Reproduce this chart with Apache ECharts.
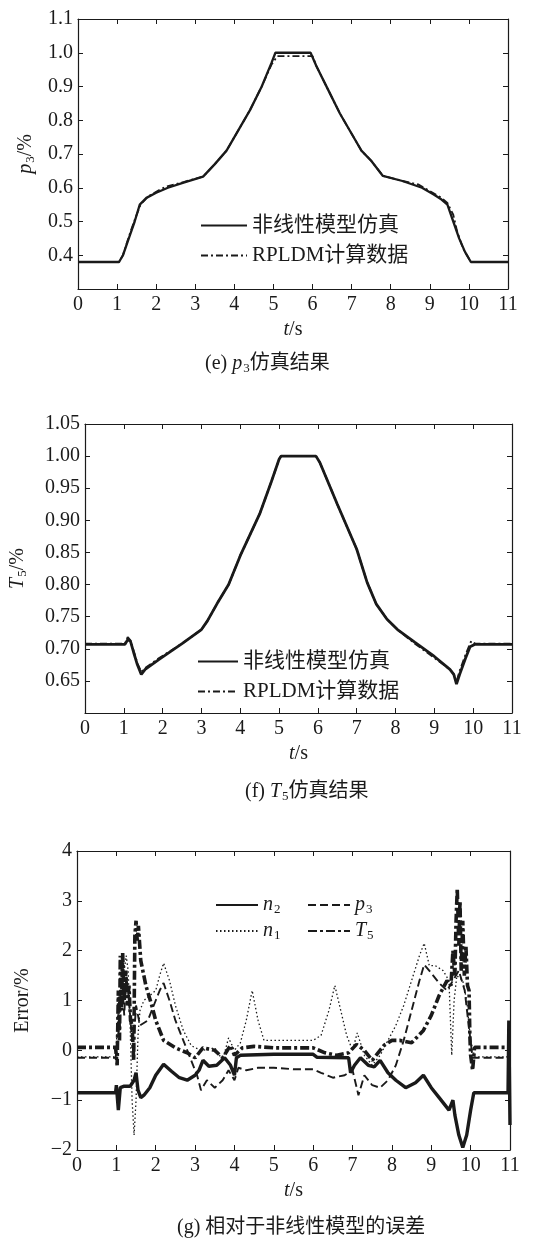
<!DOCTYPE html>
<html><head><meta charset="utf-8">
<script src="https://cdn.jsdelivr.net/npm/echarts@6/dist/echarts.min.js"></script>
<style>html,body{margin:0;padding:0;background:#fff}#c{width:551px;height:1240px}</style>
</head><body><div id="c"></div>
<script>
// ---- data: (e) p3 simulation ----
var p3_nonlinear = [[0,0.38],[1.05,0.38],[1.15,0.40],[1.3,0.45],[1.45,0.50],[1.58,0.55],[1.75,0.57],[2.0,0.585],[2.3,0.60],[2.7,0.615],[3.2,0.633],[3.5,0.67],[3.8,0.71],[4.1,0.77],[4.4,0.83],[4.7,0.90],[4.95,0.97],[5.05,1.0],[5.95,1.0],[6.1,0.96],[6.4,0.89],[6.7,0.82],[7.0,0.76],[7.25,0.71],[7.5,0.68],[7.8,0.635],[8.3,0.62],[8.8,0.60],[9.1,0.58],[9.3,0.565],[9.45,0.55],[9.6,0.50],[9.75,0.45],[9.9,0.41],[10.05,0.38],[11,0.38]];
var p3_rpldm = [[0,0.38],[1.05,0.38],[1.15,0.40],[1.3,0.455],[1.45,0.505],[1.6,0.55],[1.8,0.575],[2.1,0.595],[2.3,0.605],[2.7,0.617],[3.2,0.633],[3.5,0.67],[3.8,0.71],[4.1,0.77],[4.4,0.83],[4.7,0.90],[4.95,0.965],[5.1,0.99],[6.0,0.99],[6.1,0.96],[6.4,0.89],[6.7,0.82],[7.0,0.76],[7.25,0.71],[7.5,0.68],[7.8,0.635],[8.3,0.62],[8.7,0.61],[9.0,0.59],[9.3,0.57],[9.45,0.555],[9.6,0.52],[9.7,0.47],[9.85,0.42],[10.05,0.38],[11,0.38]];
// ---- data: (f) T5 simulation ----
var t5_nonlinear = [[0,0.707],[1.03,0.707],[1.1,0.714],[1.17,0.712],[1.25,0.695],[1.35,0.675],[1.45,0.66],[1.55,0.668],[1.9,0.683],[2.5,0.708],[3.0,0.73],[3.15,0.743],[3.4,0.77],[3.7,0.80],[4.0,0.845],[4.5,0.91],[4.8,0.96],[5.0,0.995],[5.05,1.0],[5.95,1.0],[6.05,0.99],[6.5,0.925],[7.0,0.855],[7.27,0.803],[7.5,0.77],[7.78,0.746],[8.05,0.73],[8.5,0.71],[9.0,0.688],[9.4,0.668],[9.5,0.66],[9.57,0.645],[9.65,0.66],[9.8,0.685],[9.92,0.703],[10.05,0.707],[11,0.707]];
var t5_rpldm = [[0,0.708],[1.03,0.708],[1.1,0.718],[1.17,0.713],[1.25,0.697],[1.35,0.677],[1.45,0.664],[1.55,0.67],[1.9,0.685],[2.5,0.708],[3.0,0.73],[3.15,0.743],[3.4,0.77],[3.7,0.80],[4.0,0.845],[4.5,0.91],[4.8,0.96],[5.0,0.995],[5.05,1.0],[5.95,1.0],[6.05,0.99],[6.5,0.925],[7.0,0.855],[7.27,0.803],[7.5,0.77],[7.78,0.746],[8.05,0.73],[8.5,0.708],[9.0,0.686],[9.4,0.668],[9.5,0.66],[9.57,0.648],[9.65,0.665],[9.8,0.69],[9.95,0.712],[10.05,0.708],[11,0.708]];
// ---- data: (g) relative error ----
var err_n2 = [[0,-0.85],[0.98,-0.85],[1.0,-0.7],[1.05,-1.2],[1.1,-0.75],[1.2,-0.72],[1.35,-0.72],[1.45,-0.6],[1.5,-0.45],[1.55,-0.8],[1.62,-0.95],[1.7,-0.9],[1.85,-0.75],[2.0,-0.5],[2.2,-0.28],[2.4,-0.42],[2.6,-0.55],[2.8,-0.6],[3.0,-0.5],[3.1,-0.4],[3.2,-0.2],[3.35,-0.32],[3.55,-0.3],[3.75,-0.15],[3.9,-0.3],[4.0,-0.5],[4.05,-0.15],[4.15,-0.1],[5,-0.08],[6,-0.08],[6.1,-0.14],[6.9,-0.15],[6.95,-0.45],[7.05,-0.3],[7.2,-0.15],[7.4,-0.3],[7.55,-0.33],[7.7,-0.2],[7.9,-0.45],[8.1,-0.6],[8.35,-0.75],[8.6,-0.65],[8.8,-0.5],[9.0,-0.75],[9.2,-0.95],[9.45,-1.2],[9.55,-1.0],[9.6,-1.3],[9.7,-1.7],[9.8,-1.95],[9.9,-1.7],[10.0,-1.2],[10.08,-0.85],[10.95,-0.85],[10.97,0.6],[11,-1.5]];
var err_p3 = [[0,-0.15],[0.98,-0.15],[1.05,0.3],[1.1,1.0],[1.15,1.4],[1.2,0.7],[1.25,1.5],[1.3,1.2],[1.35,0.7],[1.4,0.2],[1.45,0.3],[1.5,0.9],[1.6,0.5],[1.8,0.6],[2.0,1.0],[2.1,1.2],[2.2,1.35],[2.35,1.0],[2.5,0.6],[2.7,0.2],[2.9,-0.2],[3.05,-0.5],[3.15,-0.8],[3.3,-0.6],[3.5,-0.75],[3.7,-0.6],[3.85,-0.4],[4.0,-0.6],[4.1,-0.35],[4.3,-0.4],[4.6,-0.35],[5.0,-0.35],[5.5,-0.38],[6.0,-0.38],[6.2,-0.45],[6.5,-0.55],[6.8,-0.5],[7.0,-0.4],[7.15,-0.9],[7.3,-0.5],[7.5,-0.7],[7.7,-0.75],[7.9,-0.6],[8.1,-0.3],[8.3,0.2],[8.5,0.8],[8.7,1.4],[8.82,1.72],[9.0,1.55],[9.2,1.35],[9.4,1.2],[9.55,1.4],[9.7,1.6],[9.85,1.2],[9.95,0.5],[10.05,-0.15],[11,-0.15]];
var err_n1 = [[0,-0.13],[0.98,-0.13],[1.05,0.8],[1.1,1.3],[1.15,1.8],[1.2,1.6],[1.25,1.9],[1.3,1.6],[1.35,0.5],[1.4,-1.0],[1.45,-1.7],[1.5,-1.0],[1.55,0.3],[1.6,0.8],[1.7,1.0],[1.85,1.1],[2.0,1.2],[2.1,1.5],[2.2,1.75],[2.35,1.4],[2.5,0.9],[2.7,0.4],[2.9,0.1],[3.0,0.05],[3.2,0.0],[3.5,0.05],[3.7,-0.2],[3.85,0.25],[4.0,0.0],[4.15,0.15],[4.3,0.6],[4.45,1.2],[4.6,0.6],[4.75,0.2],[5,0.2],[5.5,0.2],[6.0,0.2],[6.2,0.3],[6.4,0.8],[6.55,1.3],[6.7,0.8],[6.85,0.3],[7.0,0.0],[7.12,0.35],[7.3,-0.1],[7.5,-0.3],[7.7,-0.1],[7.9,0.2],[8.1,0.5],[8.3,0.9],[8.5,1.4],[8.7,1.9],[8.82,2.15],[8.95,1.7],[9.1,1.7],[9.3,1.6],[9.45,1.4],[9.52,-0.1],[9.58,1.0],[9.65,1.5],[9.8,1.4],[9.9,1.0],[10.0,0.2],[10.1,-0.13],[11,-0.13]];
var err_t5 = [[0,0.06],[0.98,0.06],[1.02,-0.3],[1.05,1.2],[1.08,0.2],[1.1,1.9],[1.13,0.8],[1.16,1.95],[1.2,1.0],[1.24,1.6],[1.28,0.9],[1.32,1.3],[1.36,0.6],[1.4,0.5],[1.44,-0.2],[1.47,2.3],[1.5,2.6],[1.53,2.2],[1.56,2.5],[1.62,1.8],[1.75,1.3],[1.9,0.9],[2.0,0.6],[2.2,0.2],[2.5,0.05],[2.8,-0.05],[3.0,-0.15],[3.2,0.05],[3.5,0.0],[3.7,-0.15],[3.9,0.1],[4.0,-0.1],[4.2,0.05],[4.5,0.08],[5,0.05],[6,0.05],[6.3,-0.05],[6.6,-0.1],[6.9,-0.05],[7.1,0.12],[7.3,0.0],[7.5,-0.2],[7.8,0.1],[8.0,0.2],[8.2,0.2],[8.5,0.15],[8.8,0.4],[9.0,0.7],[9.2,1.1],[9.4,1.4],[9.5,1.3],[9.55,2.0],[9.6,1.5],[9.63,2.6],[9.66,3.25],[9.7,2.1],[9.73,3.0],[9.76,1.6],[9.8,2.6],[9.84,1.5],[9.88,2.1],[9.92,1.3],[9.96,1.2],[9.98,0.3],[10.0,-0.1],[10.05,-0.4],[10.1,0.06],[11,0.06]];

var nameNL = '非线性模型仿真', nameRP = 'RPLDM计算数据';
var captions = ['(e) {i|p}{s|3}仿真结果', '(f) {i|T}{s|5}仿真结果', '(g) 相对于非线性模型的误差'];

var SERIF = 'Liberation Serif';
var CJK = 'Liberation Serif, Noto Sans CJK SC';
var INK = '#1a1a1a';
var rich = {
  i: {fontStyle:'italic', fontFamily:SERIF, fontSize:20, color:INK},
  s: {fontFamily:SERIF, fontSize:13, color:INK, padding:[9,0,0,1]},
  n: {fontFamily:SERIF, fontSize:20, color:INK}
};

var grids = [
  {left:78, top:19, width:430, height:270},
  {left:82, top:424, width:430, height:289},
  {left:77, top:851, width:433, height:299}
];
var yCfg = [
  {min:0.3, max:1.1, interval:0.1, dec:1, hide:0.3, name:'{i|p}{s|3}{n|/%}', gap:40},
  {min:0.6, max:1.05, interval:0.05, dec:2, hide:0.6, name:'{i|T}{s|5}{n|/%}', gap:56},
  {min:-2, max:4, interval:1, dec:0, hide:null, name:'{n|Error/%}', gap:44}
];

var xAxes = [], yAxes = [];
grids.forEach(function(g, i){
  var base = {
    type:'value', gridIndex:i, min:0, max:11, interval:1,
    axisLine:{onZero:false, lineStyle:{color:INK, width:1.2}},
    axisTick:{inside:true, length:5, lineStyle:{color:INK, width:1}},
    splitLine:{show:false}
  };
  xAxes.push(Object.assign({}, base, {
    position:'bottom',
    axisLabel:{color:INK, fontSize:20, fontFamily:SERIF, margin:6},
    name:'{i|t}{n|/s}', nameLocation:'middle', nameGap:31,
    nameTextStyle:{rich:rich}
  }));
  xAxes.push(Object.assign({}, base, {position:'top', axisLabel:{show:false}}));
  var yc = yCfg[i];
  var ybase = {
    type:'value', gridIndex:i, min:yc.min, max:yc.max, interval:yc.interval,
    axisLine:{onZero:false, lineStyle:{color:INK, width:1.2}},
    axisTick:{inside:true, length:5, lineStyle:{color:INK, width:1}},
    splitLine:{show:false}
  };
  yAxes.push(Object.assign({}, ybase, {
    position:'left',
    axisLabel:{color:INK, fontSize:20, fontFamily:SERIF, margin:5,
      formatter:function(v){
        if (yc.hide !== null && Math.abs(v - yc.hide) < 1e-9) return '';
        return v.toFixed(yc.dec).replace('-', '\u2212');
      }},
    name:yc.name, nameLocation:'middle', nameGap:yc.gap, nameRotate:90,
    nameTextStyle:{rich:rich}
  }));
  yAxes.push(Object.assign({}, ybase, {position:'right', axisLabel:{show:false}}));
});

function line(name, data, gi, type, width){
  return {
    name:name, type:'line', data:data, xAxisIndex:gi*2, yAxisIndex:gi*2,
    showSymbol:false, symbol:'none', animation:false,
    lineStyle:{color:INK, width:width, type:type},
    itemStyle:{color:INK}
  };
}

var series = [
  line(nameNL, p3_nonlinear, 0, 'solid', 2.3),
  line(nameRP, p3_rpldm, 0, [7,3,2,3], 1.8),
  line(nameNL, t5_nonlinear, 1, 'solid', 2.8),
  line(nameRP, t5_rpldm, 1, [7,3,2,3], 2.0),
  line('n2', err_n2, 2, 'solid', 3.4),
  line('p3', err_p3, 2, [8,4], 1.9),
  line('n1', err_n1, 2, [1.5,2.5], 1.3),
  line('T5', err_t5, 2, [9,3,3,3], 3.6)
];

var legendText = {color:INK, fontSize:21, fontFamily:CJK};
var symName = {n2:'{i|n}{s|2}', p3:'{i|p}{s|3}', n1:'{i|n}{s|1}', T5:'{i|T}{s|5}'};
function mkLegend(data, left, top, w, gap){
  return {
    data:data, orient:'vertical', left:left, top:top, itemWidth:w, itemHeight:12,
    itemGap:gap, textStyle:Object.assign({rich:rich}, legendText), selectedMode:false,
    itemStyle:{opacity:0, color:'transparent', borderWidth:0},
    formatter:function(n){ return symName[n] || n; }
  };
}
var legends = [
  mkLegend([nameNL, nameRP], 195, 210, 46, 9),
  mkLegend([nameNL, nameRP], 192, 646, 40, 9),
  mkLegend(['n2','n1'], 210, 890, 42, 5),
  mkLegend(['p3','T5'], 302, 890, 42, 5)
];

var titles = [
  {text:captions[0], left:200, top:348},
  {text:captions[1], left:240, top:776},
  {text:captions[2], left:172, top:1213}
].map(function(t){
  return {text:t.text, left:t.left, top:t.top, textStyle:{fontSize:20, fontWeight:'normal', color:INK, fontFamily:CJK, rich:rich}};
});

var chart = echarts.init(document.getElementById('c'), null, {renderer:'canvas'});
chart.setOption({
  animation:false,
  backgroundColor:'#fff',
  title:titles,
  legend:legends,
  grid:grids,
  xAxis:xAxes,
  yAxis:yAxes,
  series:series
});
</script></body></html>
